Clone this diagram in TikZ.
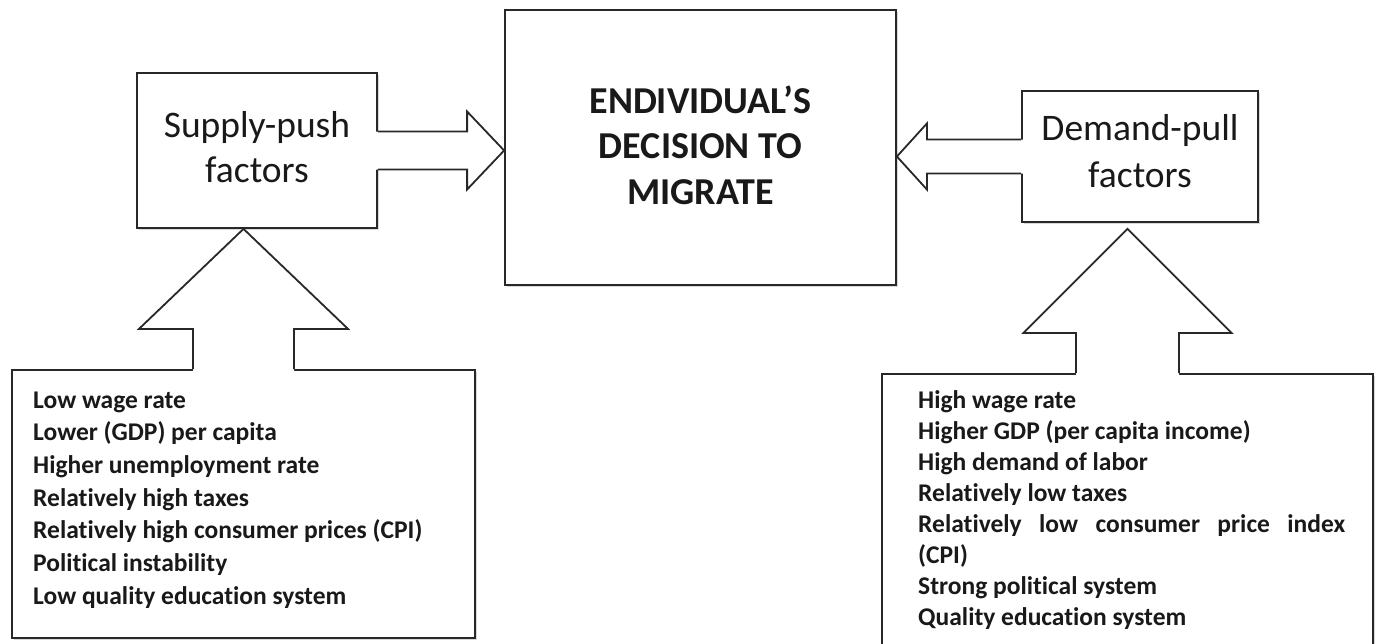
\documentclass[tikz,border=0pt]{standalone}
\usepackage{fontspec}
\setmainfont[Ligatures={NoCommon}]{Carlito}
\usetikzlibrary{calc,shadows}
\definecolor{edge}{RGB}{40,40,40}
\definecolor{ink}{RGB}{25,25,25}
\tikzset{
  box/.style={draw=edge, line width=1.8pt, fill=white, rectangle, inner sep=0pt,
    drop shadow={opacity=0.3, shadow xshift=2pt, shadow yshift=-2pt}},
  arrowfill/.style={fill=white, draw=none},
  arrowline/.style={draw=edge, line width=1.8pt, line join=miter},
  headtext/.style={font=\fontsize{37.5}{40}\selectfont, text=ink, inner sep=0pt, anchor=base},
  titletext/.style={font=\fontsize{38}{40}\selectfont\bfseries, text=ink, inner sep=0pt, anchor=base},
  listtext/.style={font=\fontsize{25.5}{28}\selectfont\bfseries, text=ink, inner sep=0pt, anchor=base west},
}
\begin{document}
\begin{tikzpicture}[x=1pt,y=-1pt]
\useasboundingbox (0,0) rectangle (1375,643);
\clip (0,0) rectangle (1375,643);
\fill[white] (0,0) rectangle (1375,643);

% boxes
\node[box, minimum width=240pt, minimum height=155pt] (sp) at (257,150.5) {};
\node[box, minimum width=391pt, minimum height=275pt] (dec) at (700.5,147.5) {};
\node[box, minimum width=236pt, minimum height=131pt] (dp) at (1140,156.5) {};
\node[box, minimum width=463pt, minimum height=268pt] (lb) at (243.5,504) {};
\node[box, minimum width=491pt, minimum height=300pt] (rb) at (1127.5,524) {};

% arrow: supply -> decision
\coordinate (t1) at (dec.west |- sp.center);
\coordinate (s1) at (sp.east |- t1);
\fill[arrowfill] ($(s1)+(-2,-19)$) -- ($(t1)+(-37,-19)$) -- ($(t1)+(-37,-39)$) -- (t1)
  -- ($(t1)+(-37,39)$) -- ($(t1)+(-37,19)$) -- ($(s1)+(-2,19)$) -- cycle;
\draw[arrowline] ($(s1)+(0,-19)$) -- ($(t1)+(-37,-19)$) -- ($(t1)+(-37,-39)$) -- (t1)
  -- ($(t1)+(-37,39)$) -- ($(t1)+(-37,19)$) -- ($(s1)+(0,19)$);

% arrow: demand -> decision
\coordinate (t2) at (dec.east |- dp.center);
\coordinate (s2) at (dp.west |- t2);
\fill[arrowfill] ($(s2)+(2,-17)$) -- ($(t2)+(30,-17)$) -- ($(t2)+(30,-33)$) -- (t2)
  -- ($(t2)+(30,33)$) -- ($(t2)+(30,17)$) -- ($(s2)+(2,17)$) -- cycle;
\draw[arrowline] ($(s2)+(0,-17)$) -- ($(t2)+(30,-17)$) -- ($(t2)+(30,-33)$) -- (t2)
  -- ($(t2)+(30,33)$) -- ($(t2)+(30,17)$) -- ($(s2)+(0,17)$);

% arrow: left list -> supply
\coordinate (t3) at (lb.north |- sp.south);
\coordinate (s3) at (lb.north);
\fill[arrowfill] ($(s3)+(-50.5,2)$) -- ($(t3)+(-50.5,100)$) -- ($(t3)+(-104.5,100)$) -- (t3)
  -- ($(t3)+(104.5,100)$) -- ($(t3)+(50.5,100)$) -- ($(s3)+(50.5,2)$) -- cycle;
\draw[arrowline] ($(s3)+(-50.5,0)$) -- ($(t3)+(-50.5,100)$) -- ($(t3)+(-104.5,100)$) -- (t3)
  -- ($(t3)+(104.5,100)$) -- ($(t3)+(50.5,100)$) -- ($(s3)+(50.5,0)$);

% arrow: right list -> demand
\coordinate (t4) at ($(rb.north |- dp.south)+(0,6)$);
\coordinate (s4) at (rb.north);
\fill[arrowfill] ($(s4)+(-51.5,2)$) -- ($(t4)+(-51.5,104)$) -- ($(t4)+(-104,104)$) -- (t4)
  -- ($(t4)+(104,104)$) -- ($(t4)+(51.5,104)$) -- ($(s4)+(51.5,2)$) -- cycle;
\draw[arrowline] ($(s4)+(-51.5,0)$) -- ($(t4)+(-51.5,104)$) -- ($(t4)+(-104,104)$) -- (t4)
  -- ($(t4)+(104,104)$) -- ($(t4)+(51.5,104)$) -- ($(s4)+(51.5,0)$);

% texts
\node[headtext] (sp1) at (257,137) {Supply-push};
\node[headtext] (sp2) at (257,182) {factors};
\node[titletext] (dec1) at (700.5,113) {ENDIVIDUAL’S};
\node[titletext] (dec2) at (700.5,158.5) {DECISION TO};
\node[titletext] (dec3) at (700.5,204) {MIGRATE};
\node[headtext] (dp1) at (1140,140) {Demand-pull};
\node[headtext] (dp2) at (1140,187) {factors};

\foreach \t [count=\i] in {Low wage rate, Lower (GDP) per capita, Higher unemployment rate,
  Relatively high taxes, Relatively high consumer prices (CPI), Political instability,
  Low quality education system}
  \node[listtext] (L\i) at (33,{408+32.7*(\i-1)}) {\t};

\foreach \t [count=\i] in {High wage rate, Higher GDP (per capita income), High demand of labor,
  Relatively low taxes,
  {\makebox[427pt][s]{Relatively\hfill low\hfill consumer\hfill price\hfill index}},
  (CPI), Strong political system, Quality education system}
  \node[listtext] (R\i) at (918,{408+31*(\i-1)}) {\t};
\end{tikzpicture}
\end{document}
